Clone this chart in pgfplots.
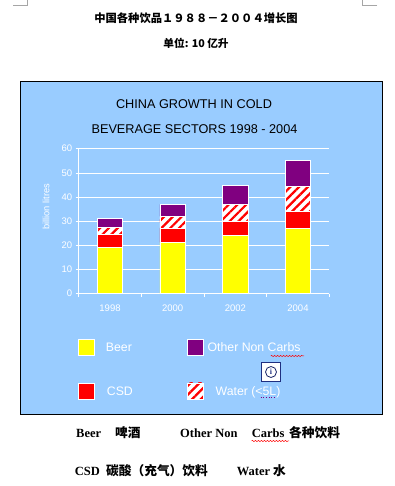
\documentclass[border=0pt]{standalone}
\usepackage{fontspec}
\setmainfont{Liberation Sans}
\newfontfamily\cjk{Noto Sans CJK SC}
\newfontfamily\tnr{Liberation Serif}
\usepackage{pgfplots}
\pgfplotsset{compat=1.18}
\usetikzlibrary{patterns.meta,decorations.pathmorphing}
\definecolor{bg}{HTML}{99CCFF}
\definecolor{beer}{HTML}{FFFF00}
\definecolor{csd}{HTML}{FF0000}
\definecolor{other}{HTML}{800080}
\definecolor{navy}{HTML}{1F2F80}
\tikzset{hatch/.style={pattern={Lines[angle=45,distance=6.2pt,line width=2.2pt]},pattern color=red},
  note/.style={anchor=base west,inner sep=0pt,font=\tnr\bfseries\fontsize{12.5}{14}\selectfont},
  notecjk/.style={anchor=base west,inner sep=0pt,font=\cjk\bfseries\fontsize{12.7}{14}\selectfont},
  squig/.style={red,line width=0.5pt,decorate,decoration={snake,amplitude=0.6pt,segment length=3pt}}}
\pgfplotsset{
  swatch/.style={legend image code/.code={
    \draw[white,line width=0.7pt,fill=#1] (0pt,-8pt) rectangle (16pt,8pt);}},
  swatchh/.style={legend image code/.code={
    \fill[white] (0pt,-8pt) rectangle (16pt,8pt);
    \path[hatch] (0pt,-8pt) rectangle (16pt,8pt);
    \draw[white,line width=0.7pt] (0pt,-8pt) rectangle (16pt,8pt);}},
}
\newcommand{\lowered}[1]{\raisebox{-2pt}{#1}}
\begin{document}
\begin{tikzpicture}[x=1pt,y=1pt]
\useasboundingbox (0,0) rectangle (394,486);
\fill[white] (0,0) rectangle (394,486);
% page corner marks
\draw[gray!70,line width=0.6pt] (13,480.7) -- (27.7,480.7) -- (27.7,486);
\draw[gray!70,line width=0.6pt] (377,480.7) -- (362.7,480.7) -- (362.7,486);
% page headings
\node[font=\cjk\bfseries\fontsize{11.3}{13}\selectfont] at (196,468) {中国各种饮品１９８８－２００４增长图};
\node[font=\cjk\bfseries\fontsize{10.7}{13}\selectfont] at (196,443) {单位: 10 亿升};
% chart frame
\draw[black,fill=bg,line width=0.8pt] (20.5,71.7) rectangle (382.7,405);
\node[font=\fontsize{12.7}{14}\selectfont] at (194,381.5) {CHINA GROWTH IN COLD};
\node[font=\fontsize{12.7}{14}\selectfont] at (194.5,357) {BEVERAGE SECTORS 1998 - 2004};
\begin{axis}[
  at={(78.7pt,192.3pt)},anchor=south west,
  scale only axis,width=250.6pt,height=145pt,
  xmin=0,xmax=4,ymin=0,ymax=60,
  ybar stacked,bar width=25.6pt,
  axis line style={white,line width=0.7pt},
  axis x line*=bottom,axis y line*=left,
  ytick={0,10,...,60},
  ymajorgrids,grid style={white,line width=0.7pt},
  xtick={0.5,1.5,2.5,3.5},xticklabels={1998,2000,2002,2004},
  minor xtick={0,1,2,3,4},
  major x tick style={draw=none},
  minor x tick style={white,line width=0.7pt},
  minor tick length=3pt,
  tick align=outside,
  major y tick style={white,line width=0.7pt},
  major tick length=3pt,
  ticklabel style={font=\fontsize{9.5}{11}\selectfont,text=white},
  /pgf/number format/assume math mode=true,
  xticklabel style={yshift=-5pt},
  ylabel={billion litres},
  every axis y label/.style={at={(axis description cs:-0.13,0.6)},rotate=90,anchor=center,
    font=\fontsize{9.3}{11}\selectfont,text=white},
  legend columns=2,
  legend cell align=left,
  legend style={at={(axis description cs:-0.002,-0.312)},anchor=north west,
    draw=none,fill=none,inner sep=0pt,outer sep=0pt,
    font=\fontsize{12.3}{14}\selectfont,text=white,
    row sep=27pt,nodes={inner sep=0pt}},
]
\addplot[forget plot,draw=white,line width=0.7pt,fill=beer] coordinates {(0.5,19.2) (1.5,21.2) (2.5,24) (3.5,27)};
\addplot[forget plot,draw=white,line width=0.7pt,fill=csd] coordinates {(0.5,5.2) (1.5,5.8) (2.5,6) (3.5,7)};
\addplot[forget plot,draw=white,line width=0.7pt,fill=white,postaction={hatch}] coordinates {(0.5,3.1) (1.5,5) (2.5,7) (3.5,10.3)};
\addplot[forget plot,draw=white,line width=0.7pt,fill=other] coordinates {(0.5,3.5) (1.5,5) (2.5,7.8) (3.5,10.7)};
\addlegendimage{swatch=beer}
\addlegendentry{\makebox[92pt][l]{\hspace{11pt}\lowered{Beer}}}
\addlegendimage{swatch=other}
\addlegendentry{\makebox[100pt][l]{\hspace{4pt}\lowered{Other Non Carbs}}}
\addlegendimage{swatch=csd}
\addlegendentry{\makebox[92pt][l]{\hspace{12pt}\lowered{CSD}}}
\addlegendimage{swatchh}
\addlegendentry{\makebox[100pt][l]{\hspace{12pt}\lowered{Water (<5L)}}}
\end{axis}
% spelling marks and smart-tag icon
\draw[squig] (270.7,130) -- (304,130);
\draw[other,line width=0.6pt,dotted] (260.7,89) -- (275,89);
\draw[navy,fill=white,line width=0.8pt] (261.3,104.3) rectangle (280.7,123.7);
\draw[navy!80!black,line width=0.8pt] (271,114) circle (5.5);
\node[font=\tnr\bfseries\fontsize{8}{8}\selectfont,text=navy] at (271,114) {i};
% notes under the chart
\node[note] at (76,48.3) {Beer};
\node[notecjk] at (115,48.3) {啤酒};
\node[note] at (180,48.3) {Other Non};
\node[note] at (251.7,48.3) {Carbs};
\node[notecjk] at (289,48.3) {各种饮料};
\node[note] at (74.7,10) {CSD};
\node[notecjk] at (106,10) {碳酸（充气）饮料};
\node[note] at (236.7,10) {Water};
\node[notecjk] at (273,10) {水};
\draw[squig] (251.5,45) -- (289,45);
\end{tikzpicture}
\end{document}
